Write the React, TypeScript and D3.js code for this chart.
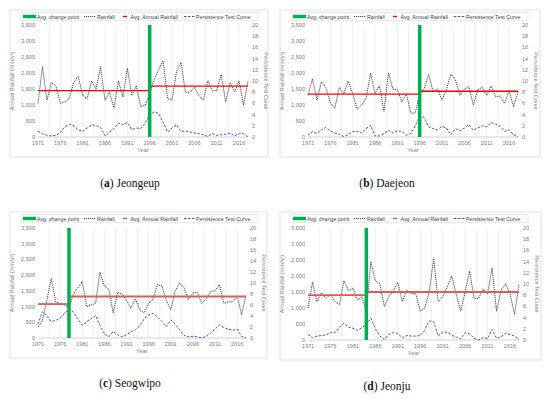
import React from 'react';
import * as d3 from 'd3';

// categories
const years = d3.range(1971, 2019);
const tickYears = [1971, 1976, 1981, 1986, 1991, 1996, 2001, 2006, 2011, 2016];
const rainTicks = [0, 500, 1000, 1500, 2000, 2500, 3000, 3500];
const curveTicks = [0, 2, 4, 6, 8, 10, 12, 14, 16, 18, 20];

// annual rainfall (mm/yr), 1971-2018
const rainJeongeup = [1050, 2200, 1150, 1700, 1600, 1050, 1100, 1200, 1700, 1900, 1300, 1200, 1750, 1500, 2200, 1150,
  1400, 900, 1750, 1250, 2150, 1300, 1600, 950, 1000, 1350, 1800, 2100, 2380, 1200, 1150, 2050, 2330, 1400, 1400, 1550,
  1300, 1150, 1750, 1450, 1450, 1950, 1100, 1700, 1400, 1750, 1000, 1750];
const rainDaejeon = [1300, 1820, 1150, 1720, 1550, 1050, 900, 1550, 1350, 1750, 1350, 870, 1000, 1200, 2000, 1350,
  1600, 800, 2000, 1500, 1480, 1100, 1350, 750, 750, 1350, 1500, 1950, 1420, 1500, 1150, 1500, 1970, 1780, 1300, 1500,
  1570, 1000, 1480, 1550, 1300, 1600, 1250, 1280, 1050, 1450, 950, 1400];
const rainSeogwipo = [350, 550, 1200, 1900, 1150, 1100, 1050, 950, 1400, 1600, 1800, 1000, 1050, 1100, 2100, 1650,
  1550, 800, 1450, 1400, 1200, 950, 1250, 900, 800, 1100, 1250, 1700, 1650, 1200, 900, 1500, 1750, 1600, 1220, 1430,
  1450, 1100, 1250, 1480, 1500, 1700, 1100, 1150, 1150, 1350, 750, 1350];
const rainJeonju = [1000, 1800, 1200, 1480, 1300, 1420, 1200, 1100, 1850, 1550, 1620, 1250, 1350, 900, 2450, 1850,
  1750, 1050, 1350, 1550, 1800, 1200, 1550, 1450, 1450, 900, 1000, 1500, 2550, 1200, 1350, 1650, 2000, 1450, 900, 1500,
  2150, 1300, 1300, 1600, 1450, 2250, 900, 1550, 1750, 1450, 800, 1750];

// persistence test curve, 1971-2018
const curveJeongeup = [1.0, 0.6, 0.3, 0.2, 0.3, 0.8, 1.8, 2.3, 2.0, 1.3, 1.0, 1.6, 2.2, 2.0, 1.7, 0.2, 0.8, 1.5, 2.5,
  2.2, 2.6, 1.3, 1.6, 1.5, 2.5, 4.0, 4.5, 4.2, 2.6, 0.9, 1.6, 2.2, 1.0, 1.1, 0.9, 0.7, 0.6, 0.4, 0.1, 0.6, 0.3, 0.4,
  0.5, 0.7, 0.2, 0.6, 0.6, 0.0];
const curveDaejeon = [0.3, 1.0, 0.6, 1.3, 1.7, 1.1, 0.7, 0.5, 0.1, 0.4, 1.0, 1.0, 0.7, 1.5, 2.1, 0.2, 0.2, 0.6, 1.2,
  0.7, 1.1, 1.0, 0.3, 0.6, 2.0, 3.7, 3.5, 1.8, 1.5, 1.3, 1.9, 1.6, 0.4, 1.5, 1.1, 1.6, 2.2, 1.2, 1.6, 2.0, 1.8, 2.6,
  2.3, 1.9, 1.0, 1.3, 0.4, 0.0];
const curveSeogwipo = [2.5, 4.8, 4.0, 3.0, 3.2, 3.6, 4.5, 5.2, 4.7, 3.5, 2.3, 3.0, 3.5, 4.1, 2.3, 0.8, 0.2, 1.2, 0.6,
  0.2, 0.6, 1.1, 1.5, 2.2, 3.5, 4.2, 4.5, 3.8, 3.0, 2.1, 3.3, 2.5, 1.5, 0.5, 0.2, 0.3, 0.2, 0.0, 0.3, 0.9, 1.6, 2.4,
  1.9, 1.6, 1.4, 1.6, 0.3, 0.0];
const curveJeonju = [1.0, 0.4, 0.7, 0.8, 0.9, 1.3, 1.3, 2.2, 3.0, 2.3, 2.1, 1.7, 2.2, 2.7, 3.9, 2.0, 0.7, 0.1, 1.0,
  1.3, 1.2, 0.4, 0.8, 0.7, 0.7, 0.8, 1.8, 3.4, 3.3, 0.7, 1.4, 1.4, 0.9, 0.5, 0.2, 1.3, 1.1, 0.3, 0.0, 0.4, 0.2, 1.9,
  0.3, 0.6, 1.2, 1.0, 0.7, 0.0];

// change point year and average rainfall before / after
const stationLetters = ['a', 'b', 'c', 'd'];
const stationNames = ['Jeongeup', 'Daejeon', 'Seogwipo', 'Jeonju'];
const changeYears = [1996, 1996, 1978, 1984];
const avgBefore = [1450, 1340, 1080, 1400];
const avgAfter = [1590, 1430, 1320, 1500];
const rainSeries = [rainJeongeup, rainDaejeon, rainSeogwipo, rainJeonju];
const curveSeries = [curveJeongeup, curveDaejeon, curveSeogwipo, curveJeonju];

// layout of the four panels
const layouts = [
  { bx: 10, by: 10, bw: 258, bh: 147, l: 38, r: 248, t: 25, b: 137, cx: 130, cy: 187, red: '#ff0000', rw: 1.4 },
  { bx: 280, by: 10, bw: 260, bh: 147, l: 308, r: 518, t: 25, b: 137, cx: 387, cy: 187, red: '#ff0000', rw: 1.4 },
  { bx: 10, by: 212, bw: 257, bh: 146, l: 38, r: 246, t: 228, b: 338, cx: 130, cy: 387, red: '#e05a5a', rw: 1.8 },
  { bx: 280, by: 212, bw: 261, bh: 148, l: 308, r: 519, t: 228, b: 340, cx: 387, cy: 390, red: '#e05a5a', rw: 1.8 },
];

const sans = 'Liberation Sans, Arial, sans-serif';
const grey = '#7f7f7f';
const legendSize = 5.3;

function Panel({ i }: { i: number }) {
  const L = layouts[i];
  const rain = rainSeries[i];
  const curve = curveSeries[i];
  const x = d3.scaleLinear().domain([1971, 2018]).range([L.l, L.r]);
  const y = d3.scaleLinear().domain([0, 3500]).range([L.b, L.t]);
  const y2 = d3.scaleLinear().domain([0, 20]).range([L.b, L.t]);
  const rainLine = d3.line<number>().x((_, j) => x(years[j])).y(d => y(d));
  const curveLine = d3.line<number>().x((_, j) => x(years[j])).y(d => y2(d));
  const grid = d3.range(1973.5, 2018, 2.5);
  const cp = changeYears[i];
  const midY = (L.t + L.b) / 2;
  const lx = L.bx + 13;
  const ly = L.by + 2.5;
  const lm = ly + 4;

  return (
    <g>
      <rect x={L.bx} y={L.by} width={L.bw} height={L.bh} fill="#fff" stroke="#d9d9d9" strokeWidth={0.8} />
      {grid.map(g => (
        <line key={g} x1={x(g)} x2={x(g)} y1={L.t} y2={L.b} stroke="#e4e4e4" strokeWidth={0.6} />
      ))}
      <line x1={L.l} x2={L.r} y1={L.b} y2={L.b} stroke="#bfbfbf" strokeWidth={0.7} />
      {rainTicks.map(t => (
        <text key={t} x={L.l - 3} y={y(t) + 2} fontSize={5.6} fill={grey} textAnchor="end" fontFamily={sans}>
          {d3.format(',')(t)}
        </text>
      ))}
      {curveTicks.map(t => (
        <text key={t} x={L.r + 4} y={y2(t) + 2} fontSize={5.6} fill={grey} fontFamily={sans}>{t}</text>
      ))}
      {tickYears.map(t => (
        <text key={t} x={x(t)} y={L.b + 8} fontSize={5.6} fill={grey} textAnchor="middle" fontFamily={sans}>{t}</text>
      ))}
      <text x={(L.l + L.r) / 2} y={L.b + 15} fontSize={5.6} fill={grey} textAnchor="middle" fontFamily={sans}>Year</text>
      <text transform={`translate(${L.bx + 0.5},${midY}) rotate(-90)`} dy={-0.5} fontSize={5.6} fill={grey}
        textAnchor="middle" fontFamily={sans} dominantBaseline="hanging">
        Annual Rainfall (mm/yr)
      </text>
      <text transform={`translate(${L.r + 16},${midY}) rotate(90)`} fontSize={5.6} fill={grey}
        textAnchor="middle" fontFamily={sans}>
        Persistence Test Curve
      </text>

      <path d={rainLine(rain) || ''} fill="none" stroke="#383838" strokeWidth={0.9} strokeDasharray="1.2,0.8" />
      <line x1={x(1971)} x2={x(cp)} y1={y(avgBefore[i])} y2={y(avgBefore[i])} stroke={L.red} strokeWidth={L.rw} />
      <line x1={x(cp)} x2={x(2018)} y1={y(avgAfter[i])} y2={y(avgAfter[i])} stroke={L.red} strokeWidth={L.rw} />
      <path d={curveLine(curve) || ''} fill="none" stroke="#5050c8" strokeWidth={1} strokeDasharray="2.4,1.6" />
      <line x1={x(cp)} x2={x(cp)} y1={L.t} y2={L.b} stroke="#00b050" strokeWidth={3.5} />

      <rect x={lx - 2} y={ly} width={237} height={8} fill="#fff" stroke="#d9d9d9" strokeWidth={0.6} />
      <line x1={lx} x2={lx + 13} y1={lm} y2={lm} stroke="#00b050" strokeWidth={3.5} />
      <text x={lx + 14} y={lm + 2} fontSize={legendSize} fill="#404040" fontFamily={sans}>Avg. change point</text>
      <line x1={lx + 61} x2={lx + 73} y1={lm} y2={lm} stroke="#404040" strokeWidth={0.9} strokeDasharray="1.2,0.8" />
      <text x={lx + 74} y={lm + 2} fontSize={legendSize} fill="#404040" fontFamily={sans}>Rainfall</text>
      <line x1={lx + 100} x2={lx + 104} y1={lm} y2={lm} stroke={L.red} strokeWidth={1.4} />
      <text x={lx + 107.5} y={lm + 2} fontSize={legendSize} fill="#404040" fontFamily={sans}>Avg. Annual Rainfall</text>
      <line x1={lx + 161} x2={lx + 172} y1={lm} y2={lm} stroke="#5050c8" strokeWidth={1} strokeDasharray="2.4,1.6" />
      <text x={lx + 173} y={lm + 2} fontSize={legendSize} fill="#404040" fontFamily={sans}>Persistence Test Curve</text>

      <text x={L.cx} y={L.cy} fontSize={11.5} fill="#111" textAnchor="middle" fontFamily="Liberation Serif, serif">
        (<tspan fontWeight="bold">{stationLetters[i]}</tspan>) {stationNames[i]}
      </text>
    </g>
  );
}

export default function App() {
  return (
    <svg width={550} height={399} style={{ position: 'absolute', left: 0, top: 0, background: '#fff' }}>
      <rect width={550} height={399} fill="#fff" />
      {[0, 1, 2, 3].map(i => <Panel key={i} i={i} />)}
    </svg>
  );
}
